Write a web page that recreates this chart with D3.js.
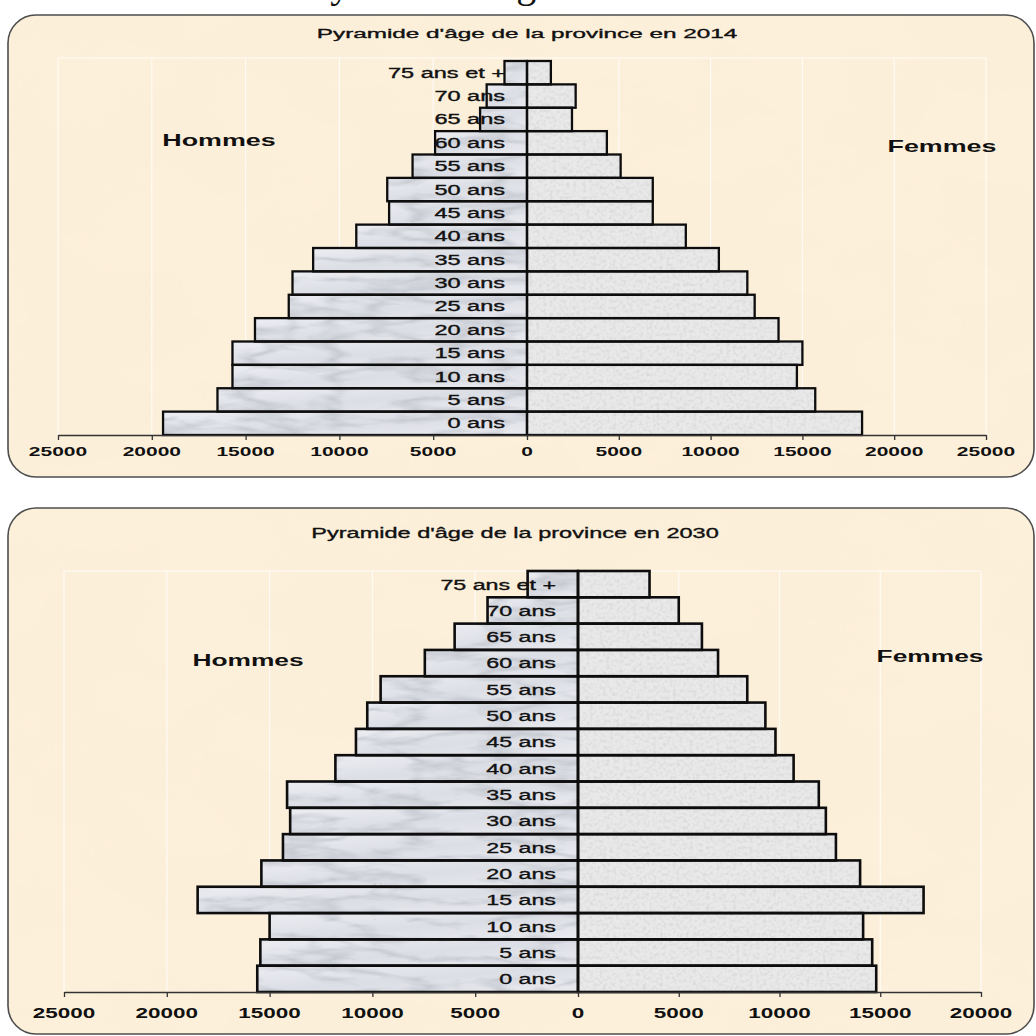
<!DOCTYPE html>
<html>
<head>
<meta charset="utf-8">
<title>Pyramides d'âge</title>
<script src="https://cdn.jsdelivr.net/npm/d3@7"></script>
<style>
  body { margin: 0; background: #fff; }
  svg { display: block; }
  text { font-family: "Liberation Sans", Arial, sans-serif; fill: #111; }
  .doc { font-family: "Liberation Serif", "Times New Roman", serif; }
  .lab { stroke: #111; stroke-width: 0.35px; }
</style>
</head>
<body>
<div id="chart"></div>
<script>
// age groups, bottom to top
var ages = ["0 ans", "5 ans", "10 ans", "15 ans", "20 ans", "25 ans", "30 ans", "35 ans",
            "40 ans", "45 ans", "50 ans", "55 ans", "60 ans", "65 ans", "70 ans", "75 ans et +"];

// 2014
var hommes2014 = [19400, 16500, 15700, 15700, 14500, 12700, 12500, 11400,
                  9100, 7350, 7450, 6100, 4900, 2500, 2150, 1200];
var femmes2014 = [18250, 15700, 14700, 15000, 13700, 12400, 12000, 10450,
                  8650, 6850, 6850, 5100, 4350, 2450, 2650, 1300];

// 2030
var hommes2030 = [15600, 15450, 15000, 18500, 15400, 14350, 14000, 14150,
                  11800, 10800, 10250, 9600, 7450, 6000, 4400, 2450];
var femmes2030 = [14800, 14600, 14150, 17150, 14000, 12800, 12300, 11950,
                  10700, 9800, 9300, 8400, 6950, 6150, 5000, 3550];

var ticks2014L = [5000, 10000, 15000, 20000, 25000];
var ticks2014R = [0, 5000, 10000, 15000, 20000, 25000];
var ticks2030L = [5000, 10000, 15000, 20000, 25000];
var ticks2030R = [0, 5000, 10000, 15000, 20000];

var W = 1036, H = 1036;

var svg = d3.select("#chart").append("svg")
    .attr("width", W)
    .attr("height", H);

// textures
var defs = svg.append("defs");

var paper = defs.append("filter").attr("id", "paperTex")
    .attr("x", 0).attr("y", 0).attr("width", "100%").attr("height", "100%");
paper.append("feTurbulence").attr("type", "fractalNoise")
    .attr("baseFrequency", "0.007 0.011").attr("numOctaves", 4).attr("seed", 7).attr("result", "n");
paper.append("feColorMatrix").attr("in", "n").attr("type", "matrix")
    .attr("values", "0 0 0 0 0.95  0 0 0 0 0.86  0 0 0 0 0.70  1.7 0 0 0 -0.78")
    .attr("result", "spots");
paper.append("feComposite").attr("in", "spots").attr("in2", "SourceGraphic")
    .attr("operator", "in").attr("result", "clip");
var pm = paper.append("feMerge");
pm.append("feMergeNode").attr("in", "SourceGraphic");
pm.append("feMergeNode").attr("in", "clip");

var marble = defs.append("filter").attr("id", "marbleTex")
    .attr("x", 0).attr("y", 0).attr("width", "100%").attr("height", "100%");
marble.append("feTurbulence").attr("type", "turbulence")
    .attr("baseFrequency", "0.012 0.05").attr("numOctaves", 3).attr("seed", 3).attr("result", "n");
marble.append("feColorMatrix").attr("in", "n").attr("type", "matrix")
    .attr("values", "0 0 0 0 0.52  0 0 0 0 0.54  0 0 0 0 0.59  -2.4 0 0 0 0.8")
    .attr("result", "veins");
marble.append("feComposite").attr("in", "veins").attr("in2", "SourceGraphic")
    .attr("operator", "in").attr("result", "clip");
var mm = marble.append("feMerge");
mm.append("feMergeNode").attr("in", "SourceGraphic");
mm.append("feMergeNode").attr("in", "clip");

var granite = defs.append("filter").attr("id", "graniteTex")
    .attr("x", 0).attr("y", 0).attr("width", "100%").attr("height", "100%");
granite.append("feTurbulence").attr("type", "fractalNoise")
    .attr("baseFrequency", "0.3").attr("numOctaves", 2).attr("seed", 11).attr("result", "n");
granite.append("feColorMatrix").attr("in", "n").attr("type", "matrix")
    .attr("values", "0 0 0 0 0.70  0 0 0 0 0.70  0 0 0 0 0.70  2.4 0 0 0 -1.0")
    .attr("result", "specks");
granite.append("feComposite").attr("in", "specks").attr("in2", "SourceGraphic")
    .attr("operator", "in").attr("result", "clip");
var gm = granite.append("feMerge");
gm.append("feMergeNode").attr("in", "SourceGraphic");
gm.append("feMergeNode").attr("in", "clip");

var menGrad = defs.append("linearGradient").attr("id", "menGrad")
    .attr("x1", "0").attr("y1", "0").attr("x2", "1").attr("y2", "1");
menGrad.append("stop").attr("offset", "0%").attr("stop-color", "#eceef3");
menGrad.append("stop").attr("offset", "50%").attr("stop-color", "#dcdee5");
menGrad.append("stop").attr("offset", "100%").attr("stop-color", "#e9ebf0");

// bit of the document heading above the first chart (cut by the page edge)
svg.append("text").attr("class", "doc")
    .attr("x", 308).attr("y", -3)
    .attr("font-size", 40)
    .text("Pyramide d'âge");

// stretched text helper: text drawn at (x,y) and widened by sx
function stretchedText(g, x, y, sx, str, size, weight, anchor) {
  return g.append("g")
      .attr("transform", "translate(" + x + "," + y + ")")
    .append("text")
      .attr("transform", "scale(" + sx + ",1)")
      .attr("text-anchor", anchor)
      .attr("font-size", size)
      .attr("font-weight", weight)
      .text(str);
}

function drawPyramid(cfg) {
  var g = svg.append("g");

  // frame
  g.append("rect")
      .attr("x", cfg.fx).attr("y", cfg.fy)
      .attr("width", cfg.fw).attr("height", cfg.fh)
      .attr("rx", 28).attr("ry", 28)
      .attr("fill", "#fdf0da")
      .attr("filter", "url(#paperTex)");
  g.append("rect")
      .attr("x", cfg.fx).attr("y", cfg.fy)
      .attr("width", cfg.fw).attr("height", cfg.fh)
      .attr("rx", 28).attr("ry", 28)
      .attr("fill", "none")
      .attr("stroke", "#4d4d4d")
      .attr("stroke-width", 1.6);

  var y = d3.scaleBand()
      .domain(ages.slice().reverse())
      .range([cfg.top, cfg.bottom])
      .padding(0);

  var xL = d3.scaleLinear().domain([0, cfg.maxL]).range([cfg.cx, cfg.left]);
  var xR = d3.scaleLinear().domain([0, cfg.maxR]).range([cfg.cx, cfg.right]);

  // grid
  var grid = g.append("g").attr("stroke", "#ffffff").attr("stroke-opacity", 0.75).attr("stroke-width", 1.2);
  grid.selectAll(".gl").data(cfg.ticksL).enter().append("line")
      .attr("x1", function(d) { return xL(d); }).attr("x2", function(d) { return xL(d); })
      .attr("y1", cfg.gridTop).attr("y2", cfg.bottom);
  grid.selectAll(".gr").data(cfg.ticksR.filter(function(d) { return d > 0; })).enter().append("line")
      .attr("x1", function(d) { return xR(d); }).attr("x2", function(d) { return xR(d); })
      .attr("y1", cfg.gridTop).attr("y2", cfg.bottom);
  grid.append("line")
      .attr("x1", xL(cfg.maxL)).attr("x2", xR(cfg.maxR))
      .attr("y1", cfg.gridTop).attr("y2", cfg.gridTop);

  var rows = ages.map(function(a, i) { return {age: a, h: cfg.men[i], f: cfg.women[i]}; });

  // men bars
  g.selectAll(".barH").data(rows).enter().append("rect")
      .attr("x", function(d) { return xL(d.h); })
      .attr("y", function(d) { return y(d.age); })
      .attr("width", function(d) { return cfg.cx - xL(d.h); })
      .attr("height", y.bandwidth())
      .attr("fill", "url(#menGrad)")
      .attr("filter", "url(#marbleTex)");

  // women bars
  g.selectAll(".barF").data(rows).enter().append("rect")
      .attr("x", cfg.cx)
      .attr("y", function(d) { return y(d.age); })
      .attr("width", function(d) { return xR(d.f) - cfg.cx; })
      .attr("height", y.bandwidth())
      .attr("fill", "#e9e9e9")
      .attr("filter", "url(#graniteTex)");

  // outlines
  var out = g.append("g").attr("fill", "none").attr("stroke", "#0d0d0d").attr("stroke-width", cfg.barStroke);
  out.selectAll(".oh").data(rows).enter().append("rect")
      .attr("x", function(d) { return xL(d.h); })
      .attr("y", function(d) { return y(d.age); })
      .attr("width", function(d) { return cfg.cx - xL(d.h); })
      .attr("height", y.bandwidth());
  out.selectAll(".of").data(rows).enter().append("rect")
      .attr("x", cfg.cx)
      .attr("y", function(d) { return y(d.age); })
      .attr("width", function(d) { return xR(d.f) - cfg.cx; })
      .attr("height", y.bandwidth());

  // age labels
  rows.forEach(function(d) {
    stretchedText(g, cfg.labelX, y(d.age) + y.bandwidth() / 2, cfg.sx, d.age, cfg.labelSize, "normal", "end")
        .attr("class", "lab")
        .attr("dy", "0.36em");
  });

  // axes
  var axL = d3.axisBottom(xL).tickValues(cfg.ticksL).tickSize(5).tickSizeOuter(0).tickFormat("");
  var axR = d3.axisBottom(xR).tickValues(cfg.ticksR).tickSize(5).tickSizeOuter(0).tickFormat("");
  [axL, axR].forEach(function(ax) {
    var a = g.append("g").attr("transform", "translate(0," + cfg.bottom + ")").call(ax);
    a.select(".domain").attr("stroke", "#333").attr("stroke-width", 1.3);
    a.selectAll(".tick line").attr("stroke", "#333").attr("stroke-width", 1.3);
  });
  cfg.ticksL.forEach(function(t) {
    stretchedText(g, xL(t), cfg.tickY, cfg.sx, String(t), cfg.tickSize, "bold", "middle");
  });
  cfg.ticksR.forEach(function(t) {
    stretchedText(g, xR(t), cfg.tickY, cfg.sx, String(t), cfg.tickSize, "bold", "middle");
  });

  // titles
  stretchedText(g, cfg.titleX, cfg.titleY, cfg.titleSx, cfg.title, cfg.titleSize, "normal", "middle")
      .attr("class", "lab");
  stretchedText(g, cfg.hX, cfg.hY, cfg.sx, "Hommes", cfg.sexSize, "bold", "middle");
  stretchedText(g, cfg.fX, cfg.fY, cfg.sx, "Femmes", cfg.sexSize, "bold", "middle");
}

drawPyramid({
  fx: 8, fy: 15, fw: 1026, fh: 462,
  top: 61, bottom: 435, gridTop: 58,
  cx: 527, left: 58, right: 986, maxL: 25000, maxR: 25000,
  ticksL: ticks2014L, ticksR: ticks2014R,
  men: hommes2014, women: femmes2014,
  sx: 1.68, labelX: 505, labelSize: 14, tickSize: 12.5, tickY: 456, barStroke: 2.3,
  title: "Pyramide d'âge de la province en 2014", titleX: 527, titleY: 38, titleSx: 1.8, titleSize: 13.5,
  hX: 219, hY: 146, fX: 942, fY: 152, sexSize: 16
});

drawPyramid({
  fx: 8, fy: 508, fw: 1026, fh: 526,
  top: 571, bottom: 992, gridTop: 571,
  cx: 578, left: 64, right: 981, maxL: 25000, maxR: 20000,
  ticksL: ticks2030L, ticksR: ticks2030R,
  men: hommes2030, women: femmes2030,
  sx: 1.55, labelX: 556, labelSize: 15, tickSize: 14.5, tickY: 1018, barStroke: 2.6,
  title: "Pyramide d'âge de la province en 2030", titleX: 515, titleY: 538, titleSx: 1.57, titleSize: 15,
  hX: 248, hY: 666, fX: 930, fY: 662, sexSize: 17
});
</script>
</body>
</html>
